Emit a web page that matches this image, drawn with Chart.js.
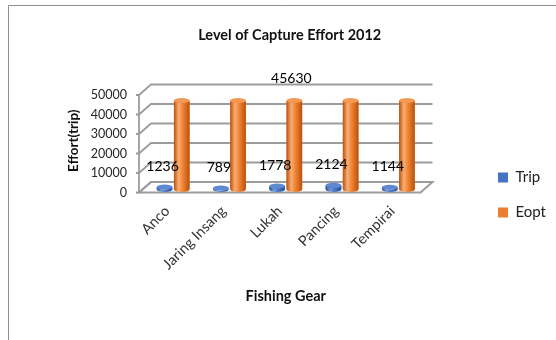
<!DOCTYPE html>
<html>
<head>
<meta charset="utf-8">
<title>Level of Capture Effort 2012</title>
<script src="https://cdn.jsdelivr.net/npm/chart.js@4.4.1/dist/chart.umd.min.js"></script>
<style>
  html, body { margin: 0; padding: 0; background: #fff; }
  #wrap { width: 556px; height: 340px; }
</style>
</head>
<body>
<div id="wrap"><canvas id="effortChart" width="556" height="340"></canvas></div>
<script>
// ---- data ----
const gears = ['Anco', 'Jaring Insang', 'Lukah', 'Pancing', 'Tempirai'];
const tripValues = [1236, 789, 1778, 2124, 1144];
const eoptValues = [45630, 45630, 45630, 45630, 45630];
const yTicks = [0, 10000, 20000, 30000, 40000, 50000];
const eoptLabelIndex = 2; // only one Eopt value is labelled in the original

// 3D look: offsets of the front edge and back wall from the bar plane
const FRONT = { dx: -6, dy: 3 };
const BACK = { dx: 6, dy: -7.5 };
const GRID_COLOR = '#9c9c9c';

const palette = {
  Trip: { dark: '#2a4f92', light: '#7099de', mid: '#4672c2', top: '#5f8ad2' },
  Eopt: { dark: '#b8520e', light: '#f9ad72', mid: '#ee7f2e', top: '#f49a55' }
};

Chart.defaults.font.family = "Lato, 'Noto Sans', sans-serif";

function drawCylinder(ctx, x, top, base, w, c) {
  const rx = w / 2;
  const ry = 2.5;
  const left = x - rx;
  const g = ctx.createLinearGradient(left, 0, left + w, 0);
  g.addColorStop(0, c.dark);
  g.addColorStop(0.3, c.light);
  g.addColorStop(0.6, c.mid);
  g.addColorStop(1, c.dark);
  ctx.fillStyle = g;
  ctx.beginPath();
  ctx.moveTo(left, top);
  ctx.lineTo(left, base);
  ctx.ellipse(x, base, rx, ry, 0, Math.PI, 0, true);
  ctx.lineTo(left + w, top);
  ctx.ellipse(x, top, rx, ry, 0, 0, Math.PI, false);
  ctx.closePath();
  ctx.fill();
  // cap
  ctx.fillStyle = c.top;
  ctx.beginPath();
  ctx.ellipse(x, top, rx, ry, 0, 0, Math.PI * 2);
  ctx.fill();
}

const effort3d = {
  id: 'effort3d',
  beforeDraw(chart) {
    const ctx = chart.ctx;
    ctx.save();
    ctx.strokeStyle = '#8f8f8f';
    ctx.lineWidth = 1;
    ctx.beginPath();
    ctx.moveTo(8.5, 340);
    ctx.lineTo(8.5, 5.5);
    ctx.lineTo(556, 5.5);
    ctx.stroke();
    ctx.restore();
  },
  beforeDatasetsDraw(chart) {
    const ctx = chart.ctx;
    const { left, right } = chart.chartArea;
    const y = chart.scales.y;
    const y0 = y.getPixelForValue(0);
    ctx.save();
    // floor
    ctx.fillStyle = '#ffffff';
    ctx.strokeStyle = GRID_COLOR;
    ctx.lineWidth = 2;
    ctx.beginPath();
    ctx.moveTo(left + FRONT.dx, y0 + FRONT.dy);
    ctx.lineTo(right + FRONT.dx, y0 + FRONT.dy);
    ctx.lineTo(right + BACK.dx, y0 + BACK.dy);
    ctx.lineTo(left + BACK.dx, y0 + BACK.dy);
    ctx.closePath();
    ctx.fill();
    ctx.stroke();
    // back wall lines + side wall slants
    ctx.lineWidth = 1.8;
    yTicks.forEach(v => {
      const py = y.getPixelForValue(v);
      ctx.beginPath();
      ctx.moveTo(left + FRONT.dx - 3, py + FRONT.dy);
      ctx.lineTo(left + FRONT.dx, py + FRONT.dy);
      ctx.lineTo(left + BACK.dx, py + BACK.dy);
      ctx.lineTo(right + BACK.dx, py + BACK.dy);
      ctx.stroke();
    });
    // front vertical axis
    const yTop = y.getPixelForValue(yTicks[yTicks.length - 1]);
    ctx.beginPath();
    ctx.moveTo(left + FRONT.dx, yTop + FRONT.dy);
    ctx.lineTo(left + FRONT.dx, y0 + FRONT.dy);
    ctx.stroke();
    ctx.restore();
  },
  afterDatasetsDraw(chart) {
    const ctx = chart.ctx;
    ctx.save();
    chart.data.datasets.forEach((ds, di) => {
      const meta = chart.getDatasetMeta(di);
      meta.data.forEach(el => {
        const p = el.getProps(['x', 'y', 'base', 'width'], true);
        drawCylinder(ctx, p.x, p.y, p.base, p.width, palette[ds.label]);
      });
    });
    // data labels
    ctx.font = "14px Lato, 'Noto Sans', sans-serif";
    ctx.fillStyle = '#000';
    ctx.textAlign = 'center';
    ctx.textBaseline = 'middle';
    chart.getDatasetMeta(0).data.forEach((el, i) => {
      ctx.fillText(String(tripValues[i]), el.x - 2, el.y - 20.5);
    });
    const eEl = chart.getDatasetMeta(1).data[eoptLabelIndex];
    ctx.fillText(String(eoptValues[eoptLabelIndex]), eEl.x - 3, eEl.y - 22);
    ctx.restore();
  }
};

new Chart(document.getElementById('effortChart'), {
  type: 'bar',
  data: {
    labels: gears,
    datasets: [
      {
        label: 'Trip',
        data: tripValues,
        backgroundColor: '#4472c4',
        borderWidth: 0,
        barPercentage: 0.91,
        categoryPercentage: 0.61
      },
      {
        label: 'Eopt',
        data: eoptValues,
        backgroundColor: '#ed7d31',
        borderWidth: 0,
        barPercentage: 0.91,
        categoryPercentage: 0.61
      }
    ]
  },
  options: {
    responsive: false,
    animation: false,
    layout: { padding: { left: 23.5, right: 0, top: 6, bottom: 0 } },
    plugins: {
      title: {
        display: true,
        text: 'Level of Capture Effort 2012',
        color: '#111',
        font: { size: 14.5, weight: 'bold' },
        padding: { top: 21, bottom: 47.6 }
      },
      legend: {
        position: 'right',
        labels: {
          boxWidth: 10,
          boxHeight: 10,
          padding: 20,
          color: '#222',
          font: { size: 15 }
        },
        title: { display: true, text: '', padding: { top: 29.6, bottom: 0 }, font: { size: 12 } }
      },
      tooltip: { enabled: false }
    },
    scales: {
      x: {
        grid: { display: false, drawTicks: false },
        border: { display: false },
        ticks: {
          autoSkip: false,
          minRotation: 45,
          maxRotation: 45,
          padding: 13,
          labelOffset: -6,
          color: '#333',
          font: { size: 14.5 }
        },
        title: {
          display: true,
          text: 'Fishing Gear',
          color: '#111',
          font: { size: 14.5, weight: 'bold' },
          padding: { top: 0, bottom: 35 }
        },
        afterFit: s => { s.height = 150.5; }
      },
      y: {
        min: 0,
        max: 50000,
        afterBuildTicks: s => { s.ticks = yTicks.map(v => ({ value: v })); },
        grid: { display: false, drawTicks: false },
        border: { display: false },
        ticks: {
          padding: 18,
          labelOffset: 3,
          color: '#262626',
          font: { size: 12.5 },
          callback: v => String(v)
        },
        title: {
          display: true,
          text: 'Effort(trip)',
          color: '#111',
          font: { size: 13.5, weight: 'bold' },
          padding: { top: 42.5, bottom: 0 }
        },
        afterFit: s => { s.width = 121.5; }
      },
      // empty spacer between plot and legend
      gap: {
        type: 'linear',
        position: 'right',
        display: true,
        grid: { display: false, drawTicks: false },
        border: { display: false },
        ticks: { display: false },
        afterFit: s => { s.width = 51.5; }
      }
    }
  },
  plugins: [effort3d]
});
</script>
</body>
</html>
